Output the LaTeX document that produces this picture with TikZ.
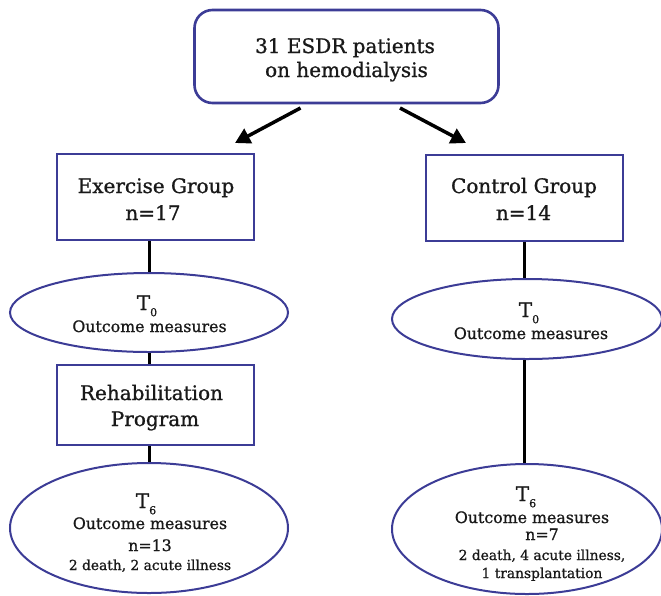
\documentclass[tikz,border=0pt]{standalone}
\usepackage{fontspec}
\setmainfont{DejaVu Serif}[FakeBold=1]
\usetikzlibrary{shapes.geometric,arrows.meta}
\definecolor{bdr}{RGB}{60,60,150}
\definecolor{ink}{RGB}{25,25,25}
\newcommand\Tsub[1]{T\raisebox{-0.6ex}{\fontsize{11}{11}\selectfont #1}}
\begin{document}
\begin{tikzpicture}[x=1pt,y=-1pt,
  box/.style={draw=bdr,line width=2pt,inner sep=0pt},
  oval/.style={ellipse,draw=bdr,line width=2pt,inner sep=0pt},
  link/.style={line width=3pt},
  arr/.style={line width=3.5pt,-{Triangle[length=15pt,width=16pt]}},
  big/.style={anchor=base,inner sep=0pt,text=ink,font=\fontsize{20}{24}\selectfont},
  mid/.style={anchor=base,inner sep=0pt,text=ink,font=\fontsize{15.8}{20}\selectfont},
  sml/.style={anchor=base,inner sep=0pt,text=ink,font=\fontsize{13.8}{17}\selectfont},
]
\useasboundingbox (0,0) rectangle (661,595);
% shapes
\node[box,line width=2.6pt,rounded corners=18pt,minimum width=304pt,minimum height=93pt] (top) at (346.5,56.5) {};
\node[box,minimum width=197pt,minimum height=86pt] (ex) at (155.5,197) {};
\node[box,minimum width=197pt,minimum height=86pt] (cg) at (524,197.5) {};
\node[oval,minimum width=278pt,minimum height=79pt] (lt0) at (149,312.5) {};
\node[oval,minimum width=270pt,minimum height=80pt] (rt0) at (527,319) {};
\node[box,minimum width=197pt,minimum height=80pt] (rp) at (155.5,405) {};
\node[oval,minimum width=278pt,minimum height=130pt] (lt6) at (149,528) {};
\node[oval,minimum width=270pt,minimum height=130pt] (rt6) at (527,529) {};
% texts
\node[big] (top1) at (345,53) {31 ESDR patients};
\node[big] (top2) at (346.5,77) {on hemodialysis};
\node[big] (ex1) at (156,193) {Exercise Group};
\node[big] (ex2) at (153,220) {n=17};
\node[big] (cg1) at (524,193) {Control Group};
\node[big] (cg2) at (523.5,220) {n=14};
\node[big] (lt01) at (147,310) {\Tsub{0}};
\node[mid] (lt02) at (149.5,332) {Outcome measures};
\node[big] (rp1) at (151.5,400) {Rehabilitation};
\node[big] (rp2) at (155,426) {Program};
\node[big] (lt61) at (146,508) {\Tsub{6}};
\node[mid] (lt62) at (150,529) {Outcome measures};
\node[mid] (lt63) at (150,551) {n=13};
\node[sml] (lt64) at (150,570) {2 death, 2 acute illness};
\node[big] (rt01) at (529,317) {\Tsub{0}};
\node[mid] (rt02) at (531,339) {Outcome measures};
\node[big] (rt61) at (526,501) {\Tsub{6}};
\node[mid] (rt62) at (532,523) {Outcome measures};
\node[mid] (rt63) at (542,540) {n=7};
\node[sml] (rt64) at (542,560) {2 death, 4 acute illness,};
\node[sml] (rt65) at (542,578) {1 transplantation};
% arrows
\coordinate (a1s) at (300.5,108);
\coordinate (a1e) at (235,143);
\coordinate (a2s) at (400,108);
\coordinate (a2e) at (466,143);
\draw[arr] (a1s) -- (a1e);
\draw[arr] (a2s) -- (a2e);
% connectors
\draw[link] (lt0.north |- ex.south) -- (lt0.north);
\draw[link] (lt0.south) -- (lt0.south |- rp.north);
\draw[link] (lt6.north |- rp.south) -- (lt6.north);
\draw[link] (cg.south) -- (cg.south |- rt0.north);
\draw[link] (cg.south |- rt0.south) -- (cg.south |- rt6.north);
\end{tikzpicture}
\end{document}
